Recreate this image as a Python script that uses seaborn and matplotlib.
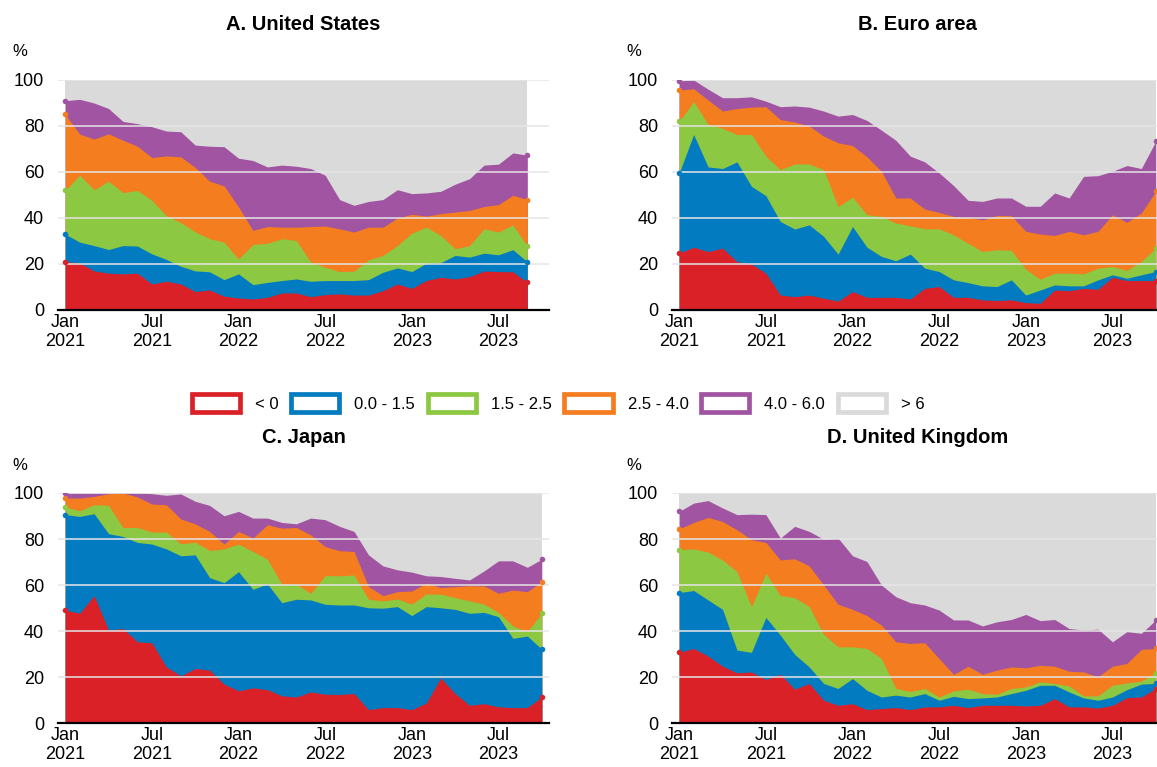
import numpy as np
import matplotlib
matplotlib.use("Agg")
import matplotlib.pyplot as plt
from matplotlib.patches import Patch
import seaborn as sns

# ─── DATA: share of items (%) with inflation below each threshold ─────────────
# monthly, Jan 2021 onwards
BINS   = ["< 0", "0.0 - 1.5", "1.5 - 2.5", "2.5 - 4.0", "4.0 - 6.0", "> 6"]
COLORS = ["#DA2128", "#037BC1", "#8CC841", "#F47D20", "#A154A1", "#DADADA"]

TICK_POS    = [0, 6, 12, 18, 24, 30]
TICK_LABELS = ["Jan\n2021", "Jul\n2021", "Jan\n2022", "Jul\n2022", "Jan\n2023", "Jul\n2023"]

# A. United States (Jan 2021 - Sep 2023)
us_lt0  = [21, 20.5, 17, 16, 15.7, 16, 11.3, 12.5, 11.3, 8, 8.7, 6, 5.2, 4.8, 5.5, 7.4, 7.4,
           5.8, 6.7, 7, 6.5, 6.5, 8.4, 11.3, 9.4, 12.8, 14.2, 13.5, 14.5, 16.9, 16.7, 16.6, 12]
us_lt15 = [33, 29.5, 28, 26.3, 28, 27.8, 24.4, 22, 19, 17, 16.6, 13.2, 15.7, 11, 12, 12.8, 13.5,
           12.5, 12.8, 12.8, 12.8, 13.2, 16.4, 18.3, 16.7, 20.3, 20.6, 23.7, 23, 24.7, 24, 26.2, 21]
us_lt25 = [52, 58.6, 52.3, 56, 51, 52, 47.7, 41, 38, 34, 31, 29.5, 22.2, 28.5, 29, 31, 30.2,
           20.8, 18.6, 16.7, 16.9, 21.8, 23.7, 28, 33.4, 36, 32.4, 26.6, 28, 35.3, 33.9, 37, 27.8]
us_lt4  = [85, 76.5, 74.3, 76.6, 73.8, 71.2, 66.3, 67, 66.6, 62, 56, 54, 44.8, 34.6, 36.3, 36, 36,
           36.3, 36.5, 35.3, 33.9, 36, 36, 40, 41.6, 40.8, 41.9, 42.6, 43.3, 45, 45.8, 49.9, 48]
us_lt6  = [91, 91.6, 90, 87.6, 82, 81, 79.7, 77.8, 77.5, 71.7, 71.2, 71, 66, 65, 62.2, 63, 62.5,
           61.5, 58.6, 48, 45.5, 47.2, 48, 52.3, 50.6, 50.9, 51.6, 54.7, 57.1, 63, 63.4, 68.3, 67.3]

# B. Euro area (Jan 2021 - Oct 2023)
ea_lt0  = [24.7, 27.3, 25.4, 26.9, 21, 20, 16, 6.5, 5.8, 6.5, 5.1, 3.9, 8, 5.5, 5.5, 5.5, 4.8,
           9.4, 10.2, 5.5, 5.5, 4.4, 4.1, 4.4, 3.2, 2.9, 8.7, 8.4, 9.4, 9, 14.2, 12.8, 12.8, 12.8]
ea_lt15 = [59.6, 76.3, 62.2, 61.5, 64.4, 53.8, 49.7, 38.5, 35.2, 37, 32, 24.3, 36.3, 27.3, 23.3,
           21.4, 24.3, 18.2, 16.7, 13.1, 11.9, 10.5, 10.2, 13.1, 6.5, 8.7, 10.9, 10.5, 10.5, 13.1,
           15.3, 13.8, 15.3, 16.7]
ea_lt25 = [82, 90.6, 80.7, 79, 76.3, 76.3, 66.9, 61, 63.5, 63.5, 61, 45, 49, 41.4, 40.7, 37.8,
           36.6, 35.3, 35.3, 32.7, 29, 25.4, 26.2, 25.9, 17.7, 13.4, 16, 16, 15.7, 18.2, 18.9,
           17.2, 21.1, 26.9]
ea_lt4  = [95.6, 96.2, 91.3, 86.5, 87.6, 88.2, 88.4, 82.8, 81.7, 80, 75.6, 72.7, 71.5, 66.6, 60.3,
           48.7, 48.7, 43.9, 42.4, 40.7, 40.3, 39.2, 41.1, 41, 34.2, 33, 32.4, 34.2, 32.7, 34.2,
           41.4, 38.1, 42.2, 51.6]
ea_lt6  = [99.6, 100, 96, 92.3, 92.3, 92.7, 90.8, 88.4, 88.7, 88.2, 86.5, 84.3, 85, 82.4, 78.2,
           73.8, 66.9, 64.4, 59.6, 54.1, 47.7, 47.2, 48.7, 48.7, 45.1, 45.1, 50.9, 48.7, 58.1,
           58.4, 60.3, 62.8, 61.5, 73.4]

# C. Japan (Jan 2021 - Oct 2023)
jp_lt0  = [49.1, 47.7, 55.4, 40.4, 41.1, 35.3, 34.9, 24.4, 20.5, 23.7, 23, 16.9, 14, 15.3, 14.5,
           11.8, 11.3, 13.5, 12.5, 12.4, 12.8, 5.8, 6.7, 6.7, 5.8, 8.7, 19.6, 12.8, 7.7, 8.4, 7,
           6.7, 6.7, 11.3]
jp_lt15 = [90.6, 89.8, 91, 82.3, 81.1, 78.5, 77.8, 75.7, 72.7, 73.1, 63.2, 61, 65.8, 58.1, 60.5,
           52.3, 53.8, 53.5, 51.6, 51.3, 51.3, 50.1, 49.9, 50.6, 46.7, 50.6, 50.1, 49.4, 47.7,
           48.1, 46.2, 36.8, 37.8, 32.1]
jp_lt25 = [93.9, 92.3, 94.9, 94.6, 85, 85, 83, 83, 77.9, 78.6, 75, 75.7, 77.8, 74.6, 71.2, 60.3,
           60.3, 56.4, 64.1, 64, 64.4, 53.8, 53.1, 53.9, 51.7, 56.1, 56, 54.5, 53.1, 51.7, 48.1,
           42.2, 39.7, 47.7]
jp_lt4  = [97.8, 97.8, 98.5, 99.7, 100, 98.3, 95.2, 94.9, 88.7, 86.6, 83.3, 77.8, 83.3, 80.4, 86.2,
           84.7, 85, 81.8, 76.7, 74.9, 74.6, 59.3, 55.4, 57.1, 57.4, 60.8, 58.9, 59.3, 59.7, 59.6,
           56.4, 57.8, 57.1, 61.5]
jp_lt6  = [100, 100, 100, 100, 100, 100, 99.7, 99, 99.6, 96.4, 94.6, 90.1, 92, 89.1, 89.1, 87.2,
           86.6, 89.1, 88.4, 85.5, 83.3, 73.1, 68.3, 66.6, 65.6, 64, 63.7, 62.9, 62.2, 66.1, 70.5,
           70.5, 67.7, 71.2]

# D. United Kingdom (Jan 2021 - Oct 2023)
uk_lt0  = [30.7, 32.4, 29.1, 24.7, 21.8, 22.2, 18.9, 21.2, 14.7, 17.2, 9.9, 7.7, 8.4, 5.8, 6.3,
           6.7, 5.8, 7, 7, 7.7, 6.7, 7.7, 7.7, 7.7, 7.4, 7.7, 10.6, 7, 7, 6.5, 7.7, 11, 11.3, 15]
uk_lt15 = [56.7, 57.6, 53.5, 49.4, 31.7, 30.7, 45.9, 38.2, 29.8, 24.4, 17.2, 15, 19.3, 14.2, 11.3,
           12.1, 11.3, 12.8, 9.9, 11.6, 10.6, 10.9, 11.3, 12.8, 14.2, 16.4, 16.4, 13.5, 10.9, 9.9,
           11.3, 14.5, 16.9, 17.2]
uk_lt25 = [75.3, 75.7, 74.3, 70.9, 65.8, 50.6, 65.1, 55.4, 54.5, 50.6, 38.5, 33.1, 33.1, 32.4, 28,
           15, 13.7, 15, 11.3, 14, 14.7, 12.8, 12.5, 15, 15.7, 17.9, 17.2, 16.1, 11.8, 11.8, 16.4,
           17.4, 18.2, 21.8]
uk_lt4  = [84.4, 87.2, 89.4, 87.6, 84, 79.7, 78.5, 70.9, 71.4, 68.3, 60, 51.6, 49.4, 46.7, 42.6,
           35.3, 34.6, 34.9, 28, 21.1, 24.7, 21.2, 23, 24.4, 24, 25.1, 24.7, 22.5, 22.2, 20.1, 24.7,
           25.9, 32, 32.4]
uk_lt6  = [92, 95.6, 96.7, 93.5, 90.6, 90.8, 90.6, 80.4, 85.5, 83.3, 79.9, 80.4, 72.7, 70.2, 60,
           54.9, 52.3, 51.3, 49.1, 44.8, 44.8, 42.2, 44, 45, 47.2, 44.5, 45, 41.1, 40.4, 40.8, 35.3,
           39.7, 39, 44.8]

PANELS = [
    ("A. United States",  [us_lt0, us_lt15, us_lt25, us_lt4, us_lt6]),
    ("B. Euro area",      [ea_lt0, ea_lt15, ea_lt25, ea_lt4, ea_lt6]),
    ("C. Japan",          [jp_lt0, jp_lt15, jp_lt25, jp_lt4, jp_lt6]),
    ("D. United Kingdom", [uk_lt0, uk_lt15, uk_lt25, uk_lt4, uk_lt6]),
]

# ─── LAYOUT (pixels) ───────────────────────────────────────────────────────────
W, H = 1157, 767
AX_LEFT   = [58, 672]     # x of left edge for left / right column
AX_WIDTH  = 491
AX_TOP    = [80, 493]     # y of the 100 line for top / bottom row
AX_HEIGHT = 230

sns.set_theme(style="white")
plt.rcParams["font.family"] = ["Liberation Sans", "DejaVu Sans"]
plt.rcParams["text.color"] = "black"
plt.rcParams["xtick.color"] = "black"
plt.rcParams["ytick.color"] = "black"


def draw_panel(ax, bounds):
    n = len(bounds[0])
    x = np.arange(n)

    # paint from the top band down so neighbouring bands share no seam
    tops = [np.full(n, 100.0)] + [np.asarray(b, float) for b in bounds[::-1]]
    for top, color in zip(tops, COLORS[::-1]):
        ax.fill_between(x, 0, top, color=color, linewidth=0, zorder=1)

    for y in range(20, 101, 20):
        ax.axhline(y, color="#e6e6e6", lw=1.1, zorder=2)

    # little dots at both ends of every band edge
    for b, color in zip(bounds, COLORS):
        sns.scatterplot(x=[x[0], x[-1]], y=[b[0], b[-1]], color=color, s=16,
                        linewidth=0, ax=ax, zorder=3, legend=False)

    ax.set_xlim(-0.5, 33.5)
    ax.set_ylim(0, 100)
    ax.set_yticks(range(0, 101, 20))
    ax.set_xticks(TICK_POS)
    ax.set_xticklabels(TICK_LABELS, linespacing=1.15)
    ax.set_xticks(np.arange(-0.5, 34, 1), minor=True)
    ax.tick_params(axis="y", length=0, pad=10, labelsize=13, labelcolor="black")
    ax.tick_params(axis="x", which="major", length=0, pad=3, labelsize=13, labelcolor="black")
    ax.tick_params(axis="x", which="minor", direction="in", length=5, width=1, color="black")
    ax.set_axisbelow(False)
    for side in ["left", "right", "top"]:
        ax.spines[side].set_visible(False)
    ax.spines["bottom"].set_color("black")
    ax.spines["bottom"].set_linewidth(1.6)
    ax.spines["bottom"].set_zorder(4)
    ax.set_xlabel("")
    ax.set_ylabel("")


def main():
    fig = plt.figure(figsize=(W / 100, H / 100), dpi=100)

    for k, (title, bounds) in enumerate(PANELS):
        col, row = k % 2, k // 2
        left, top = AX_LEFT[col], AX_TOP[row]
        ax = fig.add_axes([left / W, 1 - (top + AX_HEIGHT) / H, AX_WIDTH / W, AX_HEIGHT / H])
        draw_panel(ax, bounds)

        fig.text((left + AX_WIDTH / 2) / W, 1 - (top - 56) / H, title,
                 ha="center", va="center", fontsize=14.5, fontweight="bold", color="black")
        fig.text((left - 38) / W, 1 - (top - 28) / H, "%",
                 ha="center", va="center", fontsize=12, color="black")

    handles = [Patch(facecolor="white", edgecolor=c, linewidth=3.4) for c in COLORS]
    leg = fig.legend(handles, BINS, loc="center", bbox_to_anchor=(558 / W, 1 - 403 / H),
                     ncol=6, frameon=False, fontsize=12, handlelength=2.9, handleheight=1.25,
                     handletextpad=0.9, columnspacing=0.75)
    for t in leg.get_texts():
        t.set_color("black")

    fig.savefig("out.png", dpi=100)


if __name__ == "__main__":
    main()
